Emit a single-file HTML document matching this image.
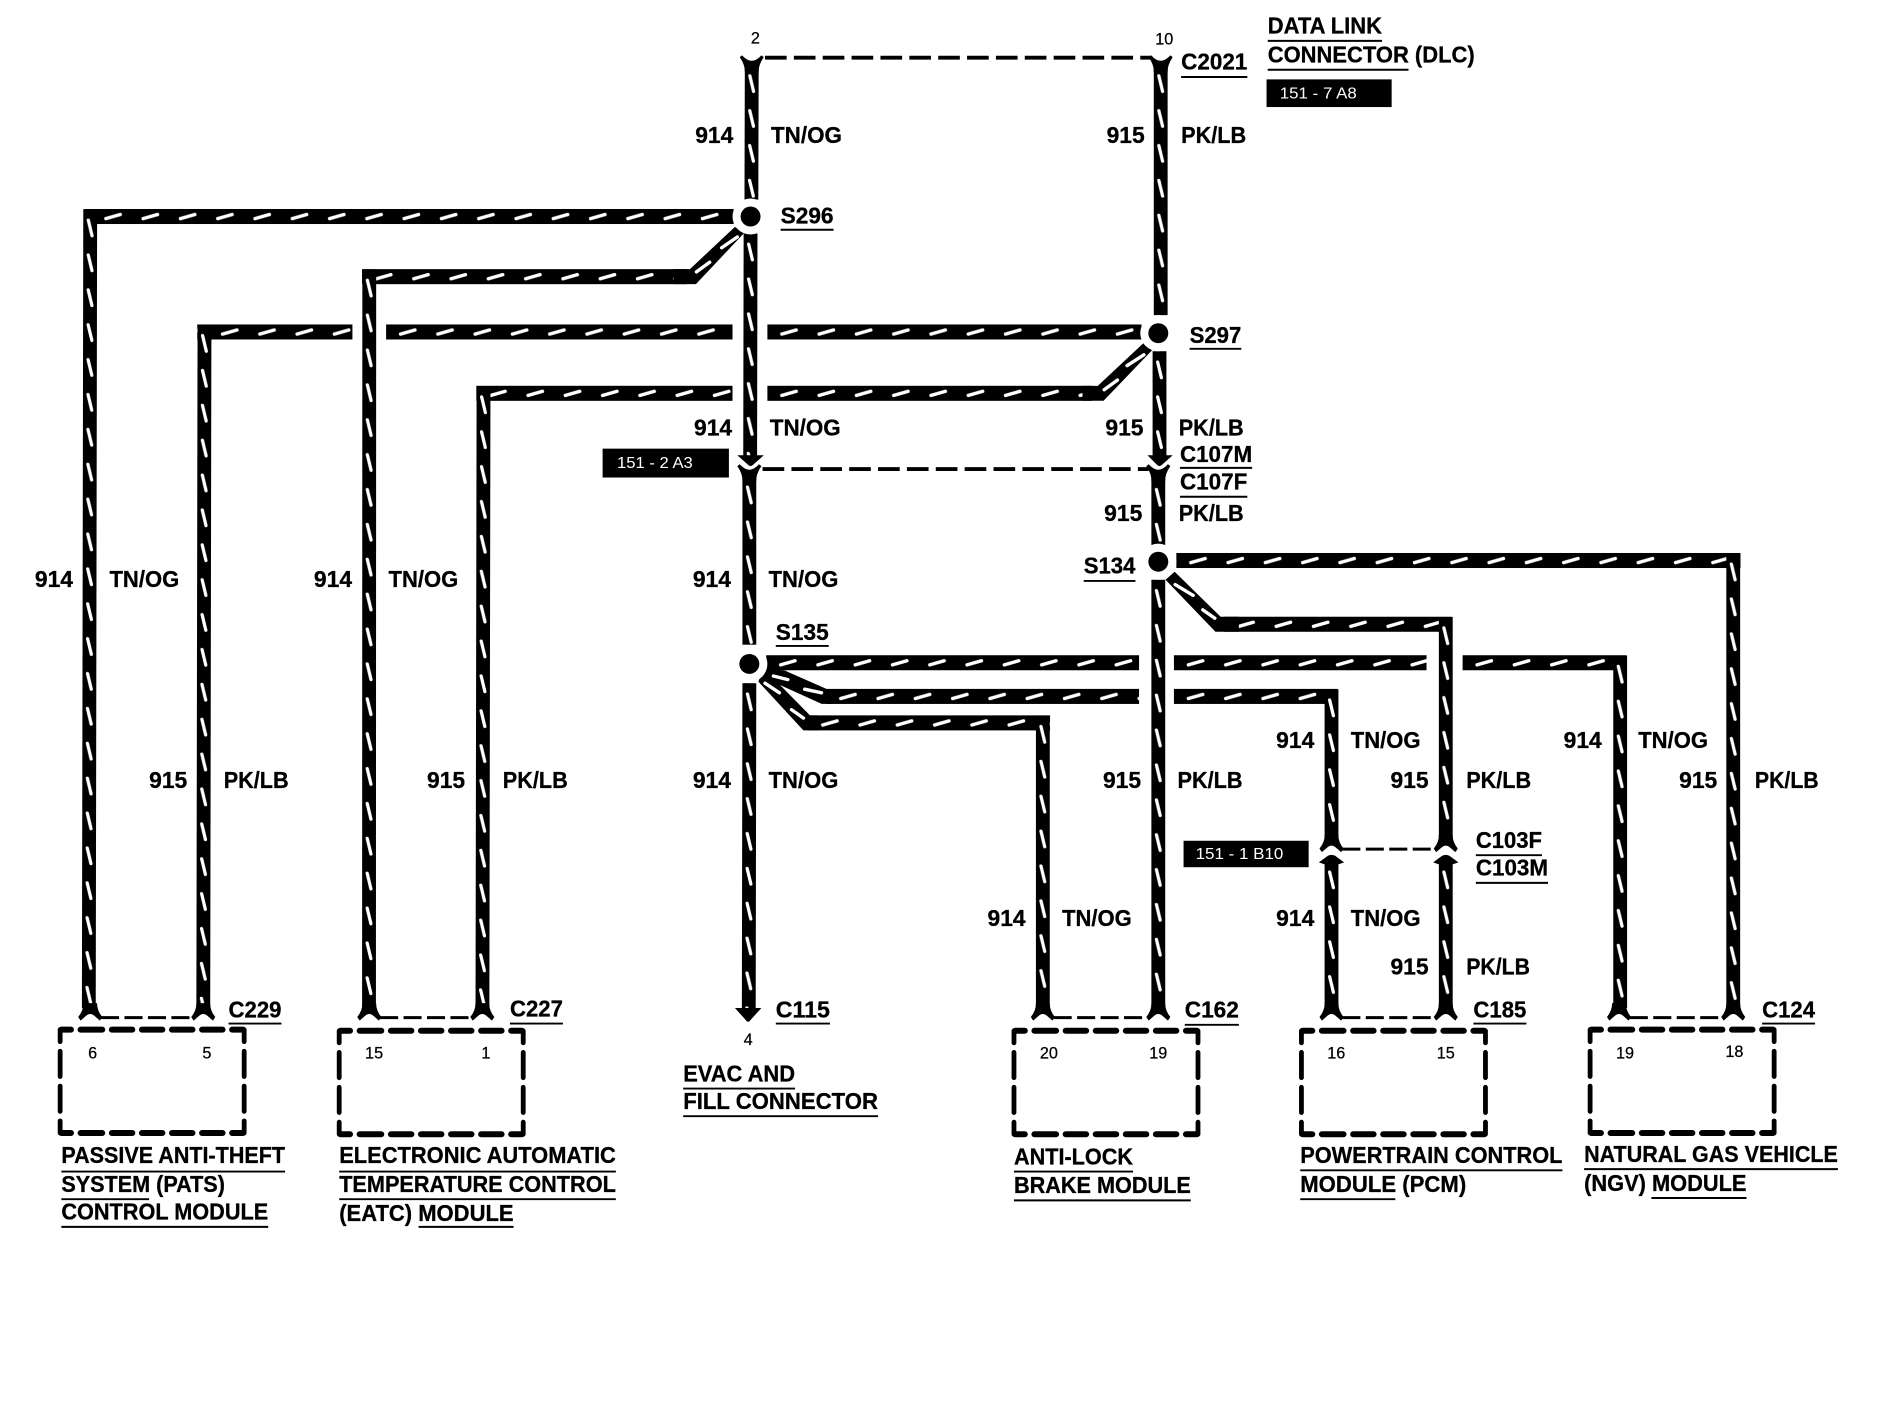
<!DOCTYPE html>
<html><head><meta charset="utf-8"><style>
html,body{margin:0;padding:0;background:#fff;width:1886px;height:1408px;overflow:hidden}
svg{display:block}
text{font-family:"Liberation Sans",sans-serif;font-weight:700;font-size:19px;fill:#000;stroke:#000;stroke-width:.25}
text.p{font-weight:400;font-size:13.5px;text-anchor:middle;stroke-width:.2}
text.t{font-weight:400;font-size:13px;fill:#fff;stroke:none}
.u{stroke:#000;stroke-width:1.6;fill:none}
.d{stroke:#000;stroke-width:3.2;fill:none;stroke-dasharray:18 6}
.e{stroke:#000;stroke-width:2.5;fill:none;stroke-dasharray:15 4.5}
.m{stroke:#fff;stroke-width:2.8;stroke-linecap:round;fill:none}
</style></head><body>
<svg width="1886" height="1408" viewBox="0 0 1568 1170.6" preserveAspectRatio="none" xmlns="http://www.w3.org/2000/svg">
<defs>
<pattern id="v" patternUnits="userSpaceOnUse" x="-5.75" y="0" width="11.5" height="29">
<rect x="0" y="0" width="11.5" height="29" fill="#000"/>
<line x1="4.2" y1="9" x2="7.3" y2="22" stroke="#fff" stroke-width="2.7" stroke-linecap="round"/>
</pattern>
<pattern id="h" patternUnits="userSpaceOnUse" x="0" y="-6.25" width="31" height="12.5">
<rect x="0" y="0" width="31" height="12.5" fill="#000"/>
<line x1="12" y1="8" x2="24" y2="4.6" stroke="#fff" stroke-width="2.8" stroke-linecap="round"/>
</pattern>
<g id="box" fill="none" stroke="#000" stroke-linecap="round">
<path stroke-width="5" d="M1,0H9M17,0H35M43,0H60M68,0H85M93,0H110M118,0H135M143,0H152M1,86H9M17,86H35M43,86H60M68,86H85M93,86H110M118,86H135M143,86H152"/>
<path stroke-width="4" d="M0,0V10M153,0V10M153,18V39M153,47V68M153,76V86M0,76V86M0,68V47M0,39V18"/>
</g>
<path id="fb" d="M-5.75,834Q-5.5,840 -10,845.5L-8,848.5L-4,845Q0,841 4,845L8,848.5L10,845.5Q5.5,840 5.75,834Z" fill="#000"/>
<path id="ft" d="M-10,45.5L-8,44Q0,53 8,44L10,45.5Q5.5,52 5.75,58H-5.75Q-5.5,52 -10,45.5Z" fill="#000"/>
</defs>

<!-- horizontal wires -->
<g fill="url(#h)">
<rect transform="translate(76,180)" x="-6" y="-6.25" width="540" height="12.5"/>
<rect transform="translate(301,230)" y="-6.25" width="270" height="12.5"/>
<rect transform="translate(173,276)" x="-9" y="-6.25" width="129" height="12.5"/>
<rect transform="translate(321,276)" y="-6.25" width="288" height="12.5"/>
<rect transform="translate(638,276)" y="-6.25" width="311" height="12.5"/>
<rect transform="translate(396,327)" y="-6.25" width="213" height="12.5"/>
<rect transform="translate(638,327)" y="-6.25" width="270" height="12.5"/>
<rect transform="translate(978,466)" y="-6.25" width="469" height="12.5"/>
<rect transform="translate(1018,519)" y="-6.25" width="189" height="12.5"/>
<rect transform="translate(637,551)" y="-6.25" width="310" height="12.5"/>
<rect transform="translate(976,551)" y="-6.25" width="210" height="12.5"/>
<rect transform="translate(1216,551)" y="-6.25" width="136" height="12.5"/>
<rect transform="translate(687,579)" y="-6.25" width="260" height="12.5"/>
<rect transform="translate(976,579)" y="-6.25" width="136" height="12.5"/>
<rect transform="translate(672,601)" y="-6.25" width="201" height="12.5"/>
</g>

<!-- diagonal wires -->
<polygon fill="#000" points="573.6,223.8 611,188.6 618.5,193.9 578.6,236.2 560,236.2 560,223.8"/>
<line class="m" x1="600" y1="206" x2="613" y2="197"/><line class="m" x1="579" y1="226" x2="590" y2="218"/>
<polygon fill="#000" points="912.7,320.8 951,285 958,291 917.5,333.2 900,333.2 900,320.8"/>
<line class="m" x1="951" y1="295" x2="937" y2="304"/><line class="m" x1="929" y1="316" x2="918" y2="324"/>
<polygon fill="#000" points="976.6,475.3 1014.8,512.8 1030,512.8 1030,525.2 1010.5,525.2 969,482"/>
<line class="m" x1="977" y1="486" x2="992" y2="495"/><line class="m" x1="1000" y1="507" x2="1010" y2="514"/>
<polygon fill="#000" points="635,555 652.6,557.6 687.3,572.8 692,572.8 692,585.2 683.1,585.2 648.5,569.5 673.4,594.8 680,594.8 680,607.2 667.9,607.2 630.5,566.7"/>
<line class="m" x1="643" y1="562" x2="655" y2="565"/><line class="m" x1="669" y1="573" x2="683" y2="576"/>
<line class="m" x1="636" y1="568" x2="648" y2="576"/><line class="m" x1="658" y1="590" x2="668" y2="597"/>

<!-- vertical wires -->
<g fill="url(#v)">
<rect transform="translate(625,54) rotate(.15)" x="-5.75" width="11.5" height="112"/>
<rect transform="translate(624,194) rotate(.1)" x="-5.75" width="11.5" height="186"/>
<rect transform="translate(623,396)" x="-5.75" width="11.5" height="140"/>
<rect transform="translate(623,568) rotate(.1)" x="-5.75" width="11.5" height="272"/>
<rect transform="translate(965,54)" x="-5.75" width="11.5" height="208"/>
<rect transform="translate(964,292)" x="-5.75" width="11.5" height="88"/>
<rect transform="translate(963,398)" x="-5.75" width="11.5" height="57"/>
<rect transform="translate(963,482)" x="-5.75" width="11.5" height="356"/>
<rect transform="translate(75,174) rotate(.1)" x="-5.75" width="11.5" height="664"/>
<rect transform="translate(170,270) rotate(.1)" x="-5.75" width="11.5" height="568"/>
<rect transform="translate(307,224) rotate(.02)" x="-5.75" width="11.5" height="614"/>
<rect transform="translate(402,321) rotate(.1)" x="-5.75" width="11.5" height="517"/>
<rect transform="translate(867,595)" x="-5.75" width="11.5" height="243"/>
<rect transform="translate(1107,573)" x="-5.75" width="11.5" height="125"/>
<rect transform="translate(1107,716)" x="-5.75" width="11.5" height="122"/>
<rect transform="translate(1202,513)" x="-5.75" width="11.5" height="185"/>
<rect transform="translate(1202,716)" x="-5.75" width="11.5" height="122"/>
<rect transform="translate(1347,545)" x="-5.75" width="11.5" height="293"/>
<rect transform="translate(1441,460)" x="-5.75" width="11.5" height="378"/>
</g>

<!-- junctions -->
<g fill="#fff">
<circle cx="624" cy="180" r="15"/><circle cx="963" cy="277" r="15"/><circle cx="963" cy="467" r="15"/><circle cx="623" cy="552" r="15"/>
</g>
<g fill="#000">
<circle cx="624" cy="180" r="8.3"/><circle cx="963" cy="277" r="8.3"/><circle cx="963" cy="467" r="8.3"/><circle cx="623" cy="552" r="8.3"/>
</g>

<!-- connector forks -->
<use href="#ft" x="625" y="2"/><use href="#ft" x="965" y="2"/>
<path class="d" d="M636,48H958"/>
<use href="#ft" x="623" y="342"/><use href="#ft" x="963" y="342"/>
<path class="d" d="M634,390H955"/>
<path d="M613,378.5H635L626,386.5Q624,388.5 622,386.5Z" fill="#000"/><path d="M954,378.5H975L966,386.5Q964,388.5 962,386.5Z" fill="#000"/>
<path d="M611,838H633L624,848Q622,851 620,848Z" fill="#000"/>
<g>
<use href="#fb" x="75"/><use href="#fb" x="169"/><use href="#fb" x="307"/><use href="#fb" x="401"/>
<use href="#fb" x="867"/><use href="#fb" x="963"/><use href="#fb" x="1107"/><use href="#fb" x="1202"/>
<use href="#fb" x="1346"/><use href="#fb" x="1441"/>
</g>
<path class="e" d="M84,846H160"/><path class="e" d="M316,846H392"/><path class="e" d="M876,846H954"/><path class="e" d="M1116,846H1193"/><path class="e" d="M1355,846H1432"/>
<use href="#fb" x="1107" y="-140"/><use href="#fb" x="1202" y="-140"/>
<path class="e" d="M1116,706H1195"/>
<path d="M1096.5,717L1104,711.5Q1107,710 1110,711.5L1117.5,717L1113,718.5H1101Z" fill="#000"/><path d="M1191.5,717L1199,711.5Q1202,710 1205,711.5L1212.5,717L1208,718.5H1196Z" fill="#000"/>

<!-- module boxes -->
<use href="#box" x="50" y="856"/>
<use href="#box" x="282" y="857"/>
<use href="#box" x="843" y="857"/>
<use href="#box" x="1082" y="857"/>
<use href="#box" x="1322" y="856"/>

<!-- tags -->
<rect x="1053" y="66" width="104" height="23" fill="#000"/>
<rect x="501" y="373" width="105" height="24" fill="#000"/>
<rect x="984" y="699" width="104" height="22" fill="#000"/>
<text class="t" x="1064" y="82" textLength="64" lengthAdjust="spacingAndGlyphs">151 - 7 A8</text>
<text class="t" x="513" y="389" textLength="63" lengthAdjust="spacingAndGlyphs">151 - 2 A3</text>
<text class="t" x="994" y="714" textLength="73" lengthAdjust="spacingAndGlyphs">151 - 1 B10</text>

<!-- wire labels -->
<text x="578" y="119">914</text><text x="641" y="119" textLength="59" lengthAdjust="spacingAndGlyphs">TN/OG</text>
<text x="920" y="119">915</text><text x="982" y="119" textLength="54" lengthAdjust="spacingAndGlyphs">PK/LB</text>
<text x="577" y="362">914</text><text x="640" y="362" textLength="59" lengthAdjust="spacingAndGlyphs">TN/OG</text>
<text x="919" y="362">915</text><text x="980" y="362" textLength="54" lengthAdjust="spacingAndGlyphs">PK/LB</text>
<text x="918" y="433">915</text><text x="980" y="433" textLength="54" lengthAdjust="spacingAndGlyphs">PK/LB</text>
<text x="29" y="488">914</text><text x="91" y="488" textLength="58" lengthAdjust="spacingAndGlyphs">TN/OG</text>
<text x="261" y="488">914</text><text x="323" y="488" textLength="58" lengthAdjust="spacingAndGlyphs">TN/OG</text>
<text x="576" y="488">914</text><text x="639" y="488" textLength="58" lengthAdjust="spacingAndGlyphs">TN/OG</text>
<text x="124" y="655">915</text><text x="186" y="655" textLength="54" lengthAdjust="spacingAndGlyphs">PK/LB</text>
<text x="355" y="655">915</text><text x="418" y="655" textLength="54" lengthAdjust="spacingAndGlyphs">PK/LB</text>
<text x="576" y="655">914</text><text x="639" y="655" textLength="58" lengthAdjust="spacingAndGlyphs">TN/OG</text>
<text x="917" y="655">915</text><text x="979" y="655" textLength="54" lengthAdjust="spacingAndGlyphs">PK/LB</text>
<text x="1156" y="655">915</text><text x="1219" y="655" textLength="54" lengthAdjust="spacingAndGlyphs">PK/LB</text>
<text x="1396" y="655">915</text><text x="1459" y="655" textLength="53" lengthAdjust="spacingAndGlyphs">PK/LB</text>
<text x="1061" y="622">914</text><text x="1123" y="622" textLength="58" lengthAdjust="spacingAndGlyphs">TN/OG</text>
<text x="1300" y="622">914</text><text x="1362" y="622" textLength="58" lengthAdjust="spacingAndGlyphs">TN/OG</text>
<text x="821" y="770">914</text><text x="883" y="770" textLength="58" lengthAdjust="spacingAndGlyphs">TN/OG</text>
<text x="1061" y="770">914</text><text x="1123" y="770" textLength="58" lengthAdjust="spacingAndGlyphs">TN/OG</text>
<text x="1156" y="810">915</text><text x="1219" y="810" textLength="53" lengthAdjust="spacingAndGlyphs">PK/LB</text>

<!-- connector labels -->
<text x="982" y="58" textLength="55" lengthAdjust="spacingAndGlyphs">C2021</text><path class="u" d="M982,64H1037"/>
<text x="649" y="186" textLength="44" lengthAdjust="spacingAndGlyphs">S296</text><path class="u" d="M649,191H693"/>
<text x="989" y="285" textLength="43" lengthAdjust="spacingAndGlyphs">S297</text><path class="u" d="M989,290H1032"/>
<text x="981" y="384" textLength="60" lengthAdjust="spacingAndGlyphs">C107M</text><path class="u" d="M981,389H1041"/>
<text x="981" y="407" textLength="56" lengthAdjust="spacingAndGlyphs">C107F</text><path class="u" d="M981,413H1037"/>
<text x="901" y="477" textLength="43" lengthAdjust="spacingAndGlyphs">S134</text><path class="u" d="M901,483H944"/>
<text x="645" y="532" textLength="44" lengthAdjust="spacingAndGlyphs">S135</text><path class="u" d="M645,537H689"/>
<text x="190" y="846" textLength="44" lengthAdjust="spacingAndGlyphs">C229</text><path class="u" d="M190,851H234"/>
<text x="424" y="845" textLength="44" lengthAdjust="spacingAndGlyphs">C227</text><path class="u" d="M424,851H468"/>
<text x="645" y="846" textLength="45" lengthAdjust="spacingAndGlyphs">C115</text><path class="u" d="M645,851H690"/>
<text x="985" y="846" textLength="45" lengthAdjust="spacingAndGlyphs">C162</text><path class="u" d="M985,852H1030"/>
<text x="1225" y="846" textLength="44" lengthAdjust="spacingAndGlyphs">C185</text><path class="u" d="M1225,851H1269"/>
<text x="1465" y="846" textLength="44" lengthAdjust="spacingAndGlyphs">C124</text><path class="u" d="M1465,851H1509"/>
<text x="1227" y="705" textLength="55" lengthAdjust="spacingAndGlyphs">C103F</text><path class="u" d="M1227,711H1282"/>
<text x="1227" y="728" textLength="60" lengthAdjust="spacingAndGlyphs">C103M</text><path class="u" d="M1227,734H1287"/>

<!-- titles -->
<text x="1054" y="28" textLength="95" lengthAdjust="spacingAndGlyphs">DATA LINK</text><path class="u" d="M1054,34H1149"/>
<text x="1054" y="52" textLength="172" lengthAdjust="spacingAndGlyphs">CONNECTOR (DLC)</text><path class="u" d="M1054,58H1171"/>
<text x="568" y="899" textLength="93" lengthAdjust="spacingAndGlyphs">EVAC AND</text><path class="u" d="M568,905H661"/>
<text x="568" y="922" textLength="162" lengthAdjust="spacingAndGlyphs">FILL CONNECTOR</text><path class="u" d="M568,928H730"/>
<text x="51" y="967" textLength="186" lengthAdjust="spacingAndGlyphs">PASSIVE ANTI-THEFT</text><path class="u" d="M51,974H237"/>
<text x="51" y="991" textLength="136" lengthAdjust="spacingAndGlyphs">SYSTEM (PATS)</text><path class="u" d="M51,997H124"/>
<text x="51" y="1014" textLength="172" lengthAdjust="spacingAndGlyphs">CONTROL MODULE</text><path class="u" d="M51,1020H223"/>
<text x="282" y="967" textLength="230" lengthAdjust="spacingAndGlyphs">ELECTRONIC AUTOMATIC</text><path class="u" d="M282,974H512"/>
<text x="282" y="991" textLength="230" lengthAdjust="spacingAndGlyphs">TEMPERATURE CONTROL</text><path class="u" d="M282,997H512"/>
<text x="282" y="1015" textLength="145" lengthAdjust="spacingAndGlyphs">(EATC) MODULE</text><path class="u" d="M348,1020H427"/>
<text x="843" y="968" textLength="99" lengthAdjust="spacingAndGlyphs">ANTI-LOCK</text><path class="u" d="M843,974H942"/>
<text x="843" y="992" textLength="147" lengthAdjust="spacingAndGlyphs">BRAKE MODULE</text><path class="u" d="M843,998H990"/>
<text x="1081" y="967" textLength="218" lengthAdjust="spacingAndGlyphs">POWERTRAIN CONTROL</text><path class="u" d="M1081,973H1299"/>
<text x="1081" y="991" textLength="138" lengthAdjust="spacingAndGlyphs">MODULE (PCM)</text><path class="u" d="M1081,997H1160"/>
<text x="1317" y="966" textLength="211" lengthAdjust="spacingAndGlyphs">NATURAL GAS VEHICLE</text><path class="u" d="M1317,972H1528"/>
<text x="1317" y="990" textLength="135" lengthAdjust="spacingAndGlyphs">(NGV) MODULE</text><path class="u" d="M1373,996H1452"/>

<!-- pin numbers -->
<text class="p" x="628" y="36">2</text><text class="p" x="968" y="37">10</text>
<text class="p" x="622" y="869">4</text>
<text class="p" x="77" y="880">6</text><text class="p" x="172" y="880">5</text>
<text class="p" x="311" y="880">15</text><text class="p" x="404" y="880">1</text>
<text class="p" x="872" y="880">20</text><text class="p" x="963" y="880">19</text>
<text class="p" x="1111" y="880">16</text><text class="p" x="1202" y="880">15</text>
<text class="p" x="1351" y="880">19</text><text class="p" x="1442" y="879">18</text>
</svg>
</body></html>
